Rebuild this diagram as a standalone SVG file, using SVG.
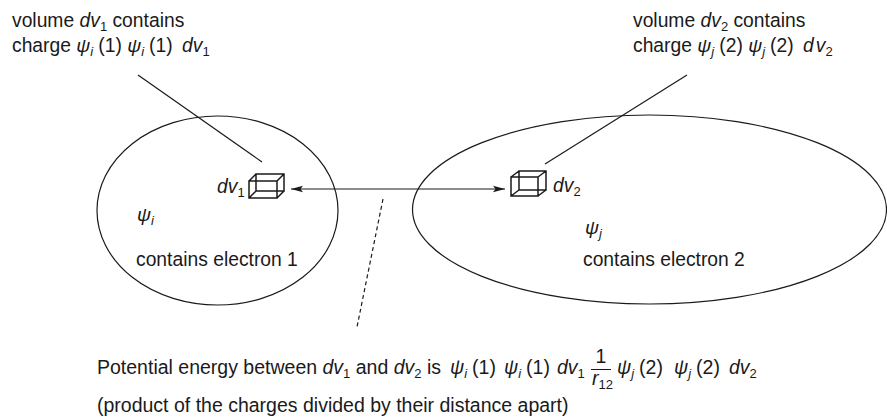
<svg xmlns="http://www.w3.org/2000/svg" width="887" height="420" viewBox="0 0 887 420">
<style>
text{font-family:"Liberation Sans",Arial,Helvetica,sans-serif;font-size:19.3px;fill:#1a1a1a}
.i{font-style:italic}
.s{font-size:13px}
.c{font-size:19.5px}
.ln{stroke:#1a1a1a;stroke-width:1.2;fill:none}
.cube{stroke:#1a1a1a;stroke-width:1.5;fill:none;stroke-linejoin:miter}
</style>
<defs>
<marker id="ah" markerUnits="userSpaceOnUse" markerWidth="13" markerHeight="8" refX="12" refY="4" orient="auto-start-reverse" viewBox="0 0 13 8">
<path d="M0,0.8 L12,4 L0,7.2 L2.5,4 z" fill="#1a1a1a"/>
</marker>
</defs>
<rect width="887" height="420" fill="#fff"/>

<g id="region1">
<ellipse cx="217.5" cy="210.5" rx="120.5" ry="94.5" class="ln"/>
<text x="137" y="221"><tspan class="i">ψ</tspan><tspan class="i s" dy="4">i</tspan></text>
<text x="136" y="266">contains electron 1</text>
</g>

<g id="region2">
<ellipse cx="649.5" cy="209.5" rx="237" ry="94.5" class="ln"/>
<text x="585" y="234"><tspan class="i">ψ</tspan><tspan class="i s" dy="4">j</tspan></text>
<text x="583" y="266">contains electron 2</text>
</g>

<g id="volume1">
<path class="cube" d="M249,181h28v17h-28z M256,174h28v17h-28z M249,181L256,174 M277,181L284,174 M277,198L284,191 M249,198L256,191"/>
<text x="217" y="193"><tspan class="i">dv</tspan><tspan class="s" dy="4">1</tspan></text>
</g>

<g id="volume2">
<path class="cube" d="M511,177h27v19h-27z M519,171h27v19h-27z M511,177L519,171 M538,177L546,171 M538,196L546,190 M511,196L519,190"/>
<text x="553" y="192"><tspan class="i">dv</tspan><tspan class="s" dy="4">2</tspan></text>
</g>

<g id="label1">
<text x="12" y="27">volume <tspan class="i">dv</tspan><tspan class="s" dy="4">1</tspan><tspan dy="-4"> contains</tspan></text>
<text x="12" y="52">charge <tspan class="i">ψ</tspan><tspan class="i s" dy="4">i</tspan><tspan dy="-4" dx="5">(1) </tspan><tspan class="i">ψ</tspan><tspan class="i s" dy="4">i</tspan><tspan dy="-4" dx="5">(1) </tspan><tspan class="i" dx="4">dv</tspan><tspan class="s" dy="4">1</tspan></text>
</g>

<g id="label2">
<text x="633" y="27">volume <tspan class="i">dv</tspan><tspan class="s" dy="4">2</tspan><tspan dy="-4"> contains</tspan></text>
<text x="633" y="52">charge <tspan class="i">ψ</tspan><tspan class="i s" dy="4">j</tspan><tspan dy="-4" dx="5">(2) </tspan><tspan class="i">ψ</tspan><tspan class="i s" dy="4">j</tspan><tspan dy="-4" dx="5">(2) </tspan><tspan class="i" dx="4">d</tspan><tspan class="i" dx="2">v</tspan><tspan class="s" dy="4">2</tspan></text>
</g>

<g id="caption">
<text class="c" x="97" y="374">Potential energy between <tspan class="i">dv</tspan><tspan class="s" dy="4">1</tspan><tspan dy="-4"> and </tspan><tspan class="i">dv</tspan><tspan class="s" dy="4">2</tspan><tspan dy="-4"> is</tspan><tspan class="i" x="450">ψ</tspan><tspan class="i s" dy="4">i</tspan><tspan dy="-4" dx="5">(1)</tspan><tspan class="i" x="504">ψ</tspan><tspan class="i s" dy="4">i</tspan><tspan dy="-4" dx="5">(1)</tspan><tspan class="i" x="557">dv</tspan><tspan class="s" dy="4">1</tspan></text>
<text class="c" x="601" y="363" text-anchor="middle">1</text>
<line x1="591" y1="369.5" x2="611" y2="369.5" stroke="#1a1a1a" stroke-width="1"/>
<text class="c" x="592" y="385"><tspan class="i">r</tspan><tspan class="s" dy="4">12</tspan></text>
<text class="c" x="617" y="374"><tspan class="i">ψ</tspan><tspan class="i s" dy="4">j</tspan><tspan dy="-4" dx="5">(2)</tspan><tspan class="i" x="674">ψ</tspan><tspan class="i s" dy="4">j</tspan><tspan dy="-4" dx="5">(2)</tspan><tspan class="i" x="729">dv</tspan><tspan class="s" dy="4">2</tspan></text>
<text class="c" x="97" y="412">(product of the charges divided by their distance apart)</text>
</g>

<g id="connectors">
<line class="ln" x1="138" y1="75" x2="262" y2="162"/>
<line class="ln" x1="687" y1="75" x2="545" y2="164"/>
<line class="ln" x1="291" y1="189" x2="505" y2="189" marker-start="url(#ah)" marker-end="url(#ah)"/>
<line class="ln" x1="383" y1="199" x2="357" y2="327" stroke-dasharray="4 3"/>
</g>
</svg>
